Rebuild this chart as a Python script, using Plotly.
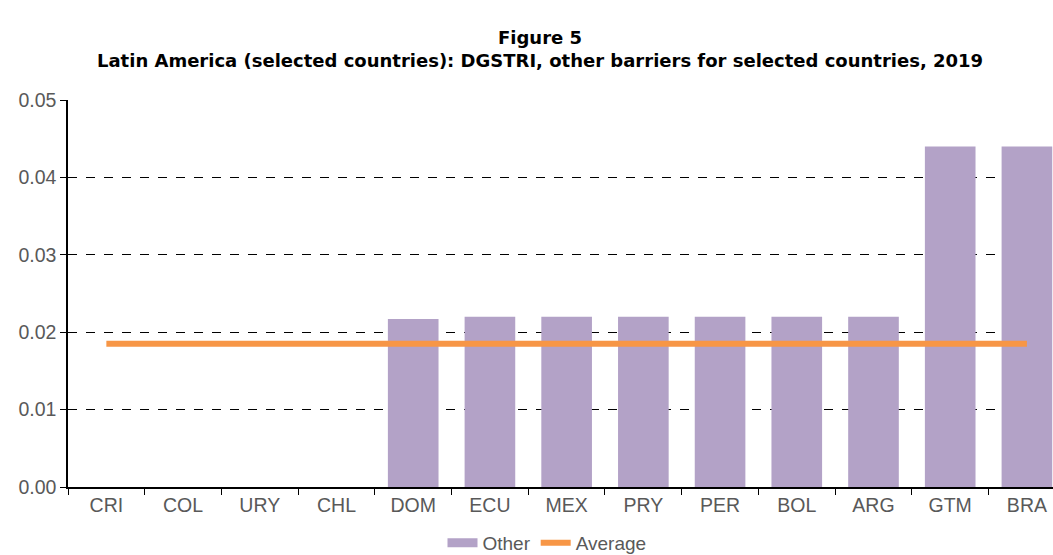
import plotly.graph_objects as go

countries = ["CRI", "COL", "URY", "CHL", "DOM", "ECU", "MEX", "PRY", "PER", "BOL", "ARG", "GTM", "BRA"]
other = [0, 0, 0, 0, 0.0217, 0.022, 0.022, 0.022, 0.022, 0.022, 0.022, 0.044, 0.044]
average_value = 0.0185
average = [average_value] * len(countries)
y_ticks = [0, 0.01, 0.02, 0.03, 0.04, 0.05]
title_lines = ["Figure 5",
               "Latin America (selected countries): DGSTRI, other barriers for selected countries, 2019"]

BAR_COLOR = "#B3A2C7"
AVG_COLOR = "#F79646"

fig = go.Figure()
fig.add_trace(go.Bar(
    x=countries, y=other, name="Other", showlegend=False,
    marker=dict(color=BAR_COLOR, line=dict(width=0)),
    width=0.66,
))
# legend proxy for the bar series (wide rectangle swatch)
fig.add_trace(go.Scatter(
    x=[None], y=[None], name="Other", mode="lines",
    line=dict(color=BAR_COLOR, width=9),
))
fig.add_trace(go.Scatter(
    x=countries, y=average, name="Average", mode="lines",
    line=dict(color=AVG_COLOR, width=6),
))

axis_font = dict(family="Liberation Sans, Arial", size=19.5, color="#595959")

W, H = 1053, 555
ML, MT, MB, MR = 68, 100, 68, 0
plot_w = W - ML - MR
plot_h = H - MT - MB

def px_to_paper(xw, yw):
    return (xw - ML) / plot_w, (MT + plot_h - yw) / plot_h

tx, ty = px_to_paper(540, 49.5)
lgx, lgy = px_to_paper(547, 543)

title_font = dict(family="DejaVu Sans", size=18, color="black")

fig.update_layout(
    width=W, height=H,
    paper_bgcolor="white", plot_bgcolor="white",
    margin=dict(l=ML, r=MR, t=MT, b=MB, autoexpand=False),
    showlegend=True,
    legend=dict(orientation="h", x=lgx, xanchor="center", y=lgy, yanchor="middle",
                font=dict(family="Liberation Sans, Arial", size=19, color="#595959"),
                traceorder="normal"),
    xaxis=dict(
        type="category", range=[-0.5, 12.34],
        showline=True, linecolor="black", linewidth=1.5,
        ticks="outside", tickson="boundaries", ticklen=6, tickcolor="black",
        tickfont=axis_font, showgrid=False,
    ),
    yaxis=dict(
        range=[0, 0.05], tickvals=y_ticks, tickformat=".2f",
        showline=True, linecolor="black", linewidth=1.5,
        ticks="outside", ticklen=6, tickcolor="black",
        tickfont=axis_font,
        showgrid=True, gridcolor="black", griddash="dash", gridwidth=1,
        zeroline=False,
    ),
    annotations=[
        dict(text="<b>%s</b><br><b>%s</b>" % (title_lines[0], title_lines[1]),
             x=tx, y=ty, xref="paper", yref="paper",
             xanchor="center", yanchor="middle", showarrow=False, font=title_font),
    ],
)

fig.write_html(
    "out.html",
    config={"displayModeBar": False},
    post_script="document.body.style.margin='0';document.body.style.overflow='hidden';",
)
